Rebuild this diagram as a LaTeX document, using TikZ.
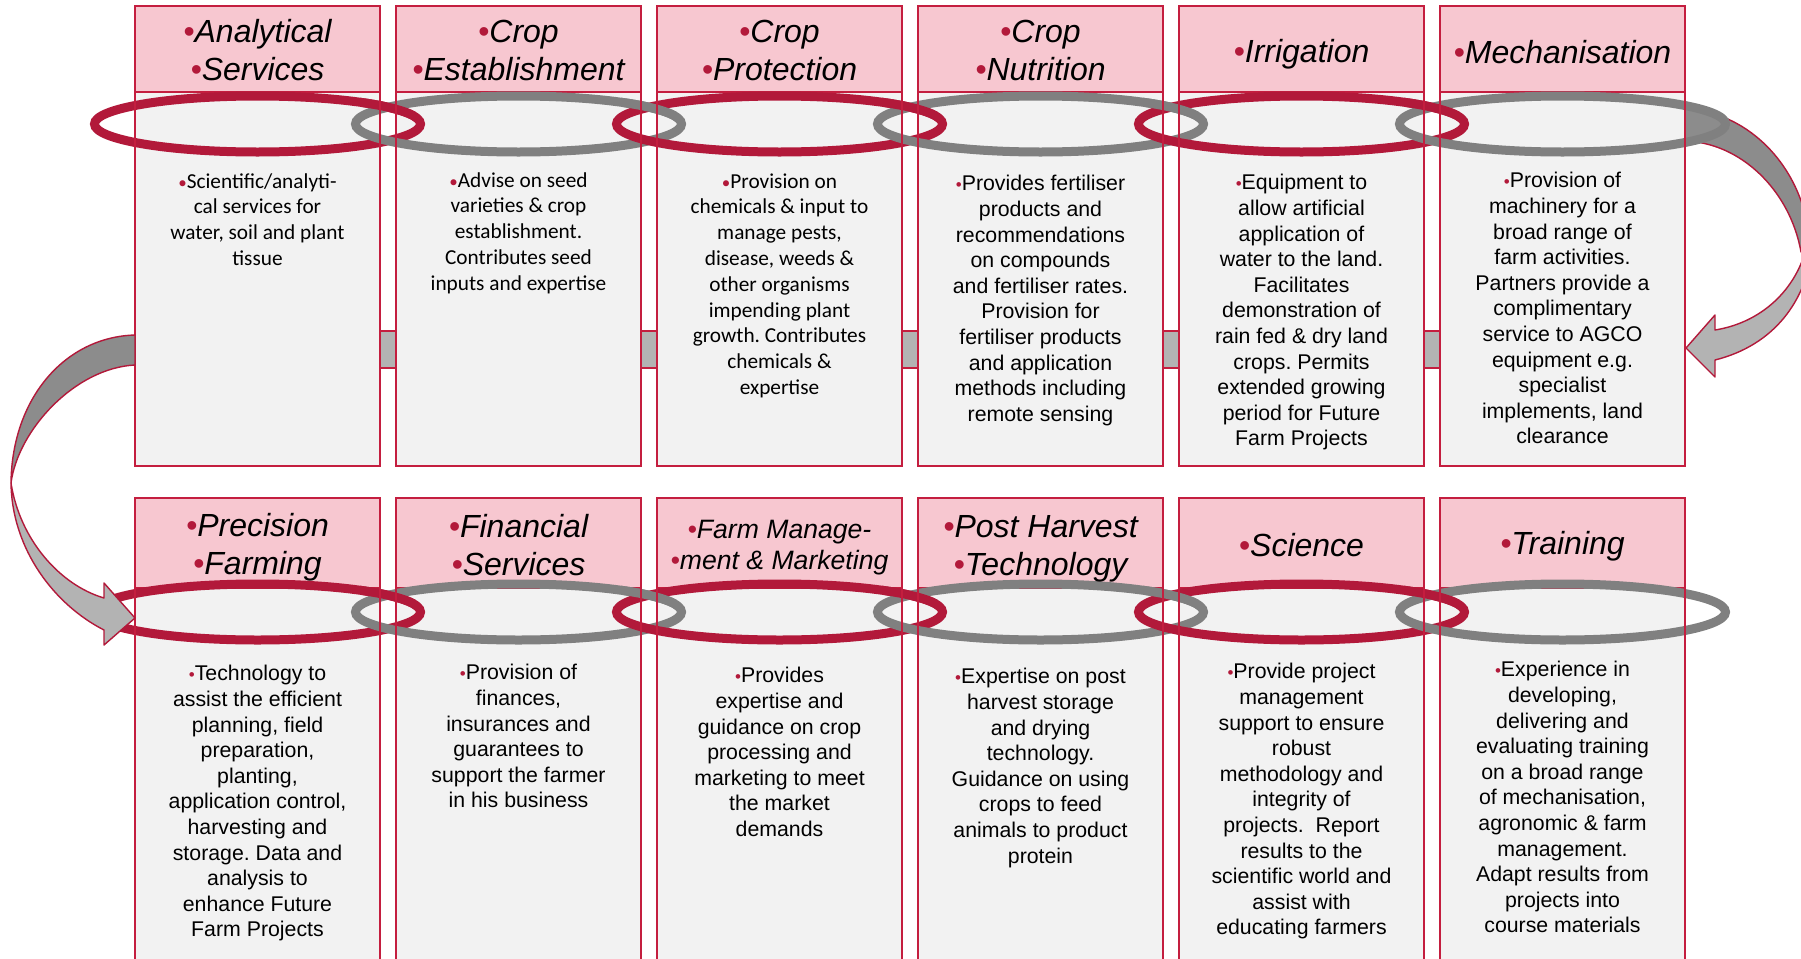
\documentclass[tikz,border=0pt]{standalone}
\usepackage{fontspec}
\setmainfont{Liberation Sans}
\newfontfamily\calibri{Carlito}
\frenchspacing
\definecolor{rojo}{HTML}{B2193A}
\definecolor{rojoborde}{HTML}{C41E3F}
\definecolor{rosa}{HTML}{F7C7D0}
\definecolor{fondo}{HTML}{F2F2F2}
\definecolor{gris}{HTML}{808080}
\definecolor{grisclaro}{HTML}{B3B3B3}
\definecolor{grisoscuro}{HTML}{8C8C8C}
\newcommand{\bul}{{\color{rojo}•}}
\newcommand{\bulp}{{\color{rojo}\fontsize{8.5}{8.5}\selectfont•}}
\tikzset{
  caja/.style={fill=fondo, draw=rojoborde, line width=1pt},
  cabecera/.style={fill=rosa, draw=rojoborde, line width=1pt},
  borde/.style={draw=rojoborde, line width=1pt},
  franja/.style={fill=grisclaro, draw=rojoborde, line width=0.8pt},
  anillorojo/.style={draw=rojo, line width=4.5pt},
  anillogris/.style={draw=gris, line width=4.5pt},
  flecha/.style={draw=rojo, line width=0.7pt, line join=round},
  titulo/.style={font=\fontsize{16}{19}\selectfont\itshape, align=center, inner sep=0pt},
  texto/.style={font=\fontsize{10.65}{12.8}\selectfont, align=center, inner sep=0pt, anchor=north},
  textoc/.style={texto, font=\fontsize{10.65}{12.9}\selectfont\calibri},
}
\begin{document}
\begin{tikzpicture}[x=0.5pt, y=-0.5pt]
    \useasboundingbox (0,0) rectangle (1801,959);
    % Franja gris entre cajas
    \draw[franja] (135,331) rectangle (1685,368);
    % Flecha curva derecha
    \draw[flecha, fill=grisclaro] (1812,250) .. controls (1806,300) and (1775,345) .. (1715,360) -- (1715,377) -- (1686,348) -- (1715,315) -- (1715,330) .. controls (1765,322) and (1800,285) .. (1808,240) -- cycle;
    \draw[flecha, fill=grisoscuro] (1684,109) .. controls (1745,110) and (1805,165) .. (1810,245) -- (1801,252) .. controls (1790,190) and (1740,142) .. (1684,141) -- cycle;
    % Cajas fila superior
    \draw[caja] (135,6) rectangle (380,466);
    \draw[cabecera] (135,6) rectangle (380,92);
    \draw[caja] (396,6) rectangle (641,466);
    \draw[cabecera] (396,6) rectangle (641,92);
    \draw[caja] (657,6) rectangle (902,466);
    \draw[cabecera] (657,6) rectangle (902,92);
    \draw[caja] (918,6) rectangle (1163,466);
    \draw[cabecera] (918,6) rectangle (1163,92);
    \draw[caja] (1179,6) rectangle (1424,466);
    \draw[cabecera] (1179,6) rectangle (1424,92);
    \draw[caja] (1440,6) rectangle (1685,466);
    \draw[cabecera] (1440,6) rectangle (1685,92);
    % Cajas fila inferior
    \draw[caja] (135,498) rectangle (380,975);
    \draw[cabecera] (135,498) rectangle (380,588);
    \draw[caja] (396,498) rectangle (641,975);
    \draw[cabecera] (396,498) rectangle (641,588);
    \draw[caja] (657,498) rectangle (902,975);
    \draw[cabecera] (657,498) rectangle (902,588);
    \draw[caja] (918,498) rectangle (1163,975);
    \draw[cabecera] (918,498) rectangle (1163,588);
    \draw[caja] (1179,498) rectangle (1424,975);
    \draw[cabecera] (1179,498) rectangle (1424,588);
    \draw[caja] (1440,498) rectangle (1685,975);
    \draw[cabecera] (1440,498) rectangle (1685,588);
    % Anillos fila superior
    \draw[anillorojo] (257.5,124) ellipse [x radius=163, y radius=28];
    \draw[anillogris] (518.5,124) ellipse [x radius=163, y radius=28];
    \draw[anillorojo] (779.5,124) ellipse [x radius=163, y radius=28];
    \draw[anillogris] (1040.5,124) ellipse [x radius=163, y radius=28];
    \draw[anillorojo] (1301.5,124) ellipse [x radius=163, y radius=28];
    \draw[anillogris] (1562.5,124) ellipse [x radius=163, y radius=28];
    \begin{scope}
        \clip (360,79) rectangle (416,121);
        \draw[anillorojo] (257.5,124) ellipse [x radius=163, y radius=28];
    \end{scope}
    \begin{scope}
        \clip (621,79) rectangle (677,121);
        \draw[anillogris] (518.5,124) ellipse [x radius=163, y radius=28];
    \end{scope}
    \begin{scope}
        \clip (882,79) rectangle (938,121);
        \draw[anillorojo] (779.5,124) ellipse [x radius=163, y radius=28];
    \end{scope}
    \begin{scope}
        \clip (1143,79) rectangle (1199,121);
        \draw[anillogris] (1040.5,124) ellipse [x radius=163, y radius=28];
    \end{scope}
    \begin{scope}
        \clip (1404,79) rectangle (1460,121);
        \draw[anillorojo] (1301.5,124) ellipse [x radius=163, y radius=28];
    \end{scope}
    % Anillos fila inferior
    \draw[anillorojo] (257.5,612) ellipse [x radius=163, y radius=28];
    \draw[anillogris] (518.5,612) ellipse [x radius=163, y radius=28];
    \draw[anillorojo] (779.5,612) ellipse [x radius=163, y radius=28];
    \draw[anillogris] (1040.5,612) ellipse [x radius=163, y radius=28];
    \draw[anillorojo] (1301.5,612) ellipse [x radius=163, y radius=28];
    \draw[anillogris] (1562.5,612) ellipse [x radius=163, y radius=28];
    \begin{scope}
        \clip (360,567) rectangle (416,609);
        \draw[anillorojo] (257.5,612) ellipse [x radius=163, y radius=28];
    \end{scope}
    \begin{scope}
        \clip (621,567) rectangle (677,609);
        \draw[anillogris] (518.5,612) ellipse [x radius=163, y radius=28];
    \end{scope}
    \begin{scope}
        \clip (882,567) rectangle (938,609);
        \draw[anillorojo] (779.5,612) ellipse [x radius=163, y radius=28];
    \end{scope}
    \begin{scope}
        \clip (1143,567) rectangle (1199,609);
        \draw[anillogris] (1040.5,612) ellipse [x radius=163, y radius=28];
    \end{scope}
    \begin{scope}
        \clip (1404,567) rectangle (1460,609);
        \draw[anillorojo] (1301.5,612) ellipse [x radius=163, y radius=28];
    \end{scope}
    % Bordes de las cajas
    \draw[borde] (135,6) rectangle (380,466);
    \draw[borde] (396,6) rectangle (641,466);
    \draw[borde] (657,6) rectangle (902,466);
    \draw[borde] (918,6) rectangle (1163,466);
    \draw[borde] (1179,6) rectangle (1424,466);
    \draw[borde] (1440,6) rectangle (1685,466);
    \draw[borde] (135,498) rectangle (380,975);
    \draw[borde] (396,498) rectangle (641,975);
    \draw[borde] (657,498) rectangle (902,975);
    \draw[borde] (918,498) rectangle (1163,975);
    \draw[borde] (1179,498) rectangle (1424,975);
    \draw[borde] (1440,498) rectangle (1685,975);
    % Flecha curva izquierda
    \draw[flecha, fill=grisoscuro] (135,335) .. controls (65,337) and (12,398) .. (11,483) .. controls (18,430) and (75,368) .. (135,365) -- cycle;
    \draw[flecha, fill=grisclaro] (11,483) .. controls (12,550) and (55,605) .. (104,630) -- (104,645) -- (135,618) -- (104,583) -- (104,598) .. controls (60,585) and (20,540) .. (11,483) -- cycle;
    % Titulos fila superior
    \node[titulo] (tit-analytical) at (257.5,50) {\bul Analytical\\\bul Services};
    \node[titulo] (tit-establishment) at (518.5,50) {\bul Crop\\\bul Establishment};
    \node[titulo] (tit-protection) at (779.5,50) {\bul Crop\\\bul Protection};
    \node[titulo] (tit-nutrition) at (1040.5,50) {\bul Crop\\\bul Nutrition};
    \node[titulo] (tit-irrigation) at (1301.5,54) {\bul Irrigation};
    \node[titulo] (tit-mechanisation) at (1562.5,52) {\bul Mechanisation};
    % Titulos fila inferior
    \node[titulo] (tit-precision) at (257.5,547) {\bul Precision\\\bul Farming};
    \node[titulo] (tit-financial) at (518.5,545) {\bul Financial\\\bul Services};
    \node[titulo, font=\fontsize{13.3}{15.5}\selectfont\itshape] (tit-management) at (779.5,548) {\bul Farm Manage-\\\bul ment \& Marketing};
    \node[titulo] (tit-postharvest) at (1040.5,549) {\bul Post Harvest\\\bul Technology};
    \node[titulo] (tit-science) at (1301.5,545) {\bul Science};
    \node[titulo] (tit-training) at (1562.5,546) {\bul Training};
    % Textos fila superior
    \node[textoc] (txt-analytical) at (257.5,173) {\bulp Scientific/analyti-\\cal services for\\water, soil and plant\\tissue};
    \node[textoc] (txt-establishment) at (518.5,172) {\bulp Advise on seed\\varieties \& crop\\establishment.\\Contributes seed\\inputs and expertise};
    \node[textoc] (txt-protection) at (779.5,173) {\bulp Provision on\\chemicals \& input to\\manage pests,\\disease, weeds \&\\other organisms\\impending plant\\growth. Contributes\\chemicals \&\\expertise};
    \node[texto] (txt-nutrition) at (1040.5,175) {\bulp Provides fertiliser\\products and\\recommendations\\on compounds\\and fertiliser rates.\\Provision for\\fertiliser products\\and application\\methods including\\remote sensing};
    \node[texto] (txt-irrigation) at (1301.5,174) {\bulp Equipment to\\allow artificial\\application of\\water to the land.\\Facilitates\\demonstration of\\rain fed \& dry land\\crops. Permits\\extended growing\\period for Future\\Farm Projects};
    \node[texto] (txt-mechanisation) at (1562.5,172) {\bulp Provision of\\machinery for a\\broad range of\\farm activities.\\Partners provide a\\complimentary\\service to AGCO\\equipment e.g.\\specialist\\implements, land\\clearance};
    % Textos fila inferior
    \node[texto] (txt-precision) at (257.5,665) {\bulp Technology to\\assist the efficient\\planning, field\\preparation,\\planting,\\application control,\\harvesting and\\storage. Data and\\analysis to\\enhance Future\\Farm Projects};
    \node[texto] (txt-financial) at (518.5,664) {\bulp Provision of\\finances,\\insurances and\\guarantees to\\support the farmer\\in his business};
    \node[texto] (txt-management) at (779.5,667) {\bulp Provides\\expertise and\\guidance on crop\\processing and\\marketing to meet\\the market\\demands};
    \node[texto] (txt-postharvest) at (1040.5,668) {\bulp Expertise on post\\harvest storage\\and drying\\technology.\\Guidance on using\\crops to feed\\animals to product\\protein};
    \node[texto] (txt-science) at (1301.5,663) {\bulp Provide project\\management\\support to ensure\\robust\\methodology and\\integrity of\\projects.\ \ Report\\results to the\\scientific world and\\assist with\\educating farmers};
    \node[texto] (txt-training) at (1562.5,661) {\bulp Experience in\\developing,\\delivering and\\evaluating training\\on a broad range\\of mechanisation,\\agronomic \& farm\\management.\\Adapt results from\\projects into\\course materials};
\end{tikzpicture}
\end{document}
